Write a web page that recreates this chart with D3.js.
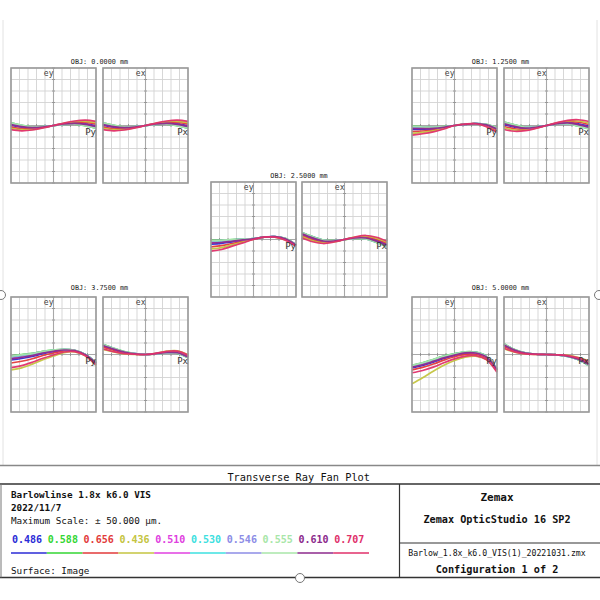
<!DOCTYPE html>
<html><head><meta charset="utf-8">
<script src="https://cdn.jsdelivr.net/npm/d3@7"></script>
<style>body{margin:0;background:#fff}svg{display:block}text{font-family:"DejaVu Sans Mono",monospace}</style>
</head><body>
<svg id="c" width="600" height="600"></svg>
<script>
// ---------- data ----------
const waves = ["0.486","0.588","0.656","0.436","0.510","0.530","0.546","0.555","0.610","0.707"];
const waveColors = ["#2b2bd6","#33d633","#e23a3a","#c4c440","#e040e0","#3de0e0","#8c8ce6","#a8e6a8","#8c2a8c","#e0306a"];
const fieldLabels = ["OBJ: 0.0000 mm","OBJ: 1.2500 mm","OBJ: 2.5000 mm","OBJ: 3.7500 mm","OBJ: 5.0000 mm"];
const pupil = [-1,-0.75,-0.5,-0.25,0,0.25,0.5,0.75,1];
const maxScale = 50; // µm
// aberration values (µm) per wavelength, in waves order
const ey0 = [
 [0.3,-1.5,-2.1,-1.4,0,1.4,2.1,1.5,-0.3],
 [2.4,0.2,-1.2,-1.0,0,1.0,1.2,-0.2,-2.4],
 [-1.2,-2.7,-2.8,-1.7,0,1.7,2.8,2.7,1.2],
 [-2.4,-3.6,-3.4,-1.9,0,1.9,3.4,3.6,2.4],
 [1.2,-0.8,-1.7,-1.2,0,1.2,1.7,0.8,-1.2],
 [1.9,-0.2,-1.4,-1.1,0,1.1,1.4,0.2,-1.9],
 [2.2,0.0,-1.3,-1.0,0,1.0,1.3,0.0,-2.2],
 [2.3,0.1,-1.25,-1.0,0,1.0,1.25,-0.1,-2.3],
 [0.9,-1.0,-1.9,-1.3,0,1.3,1.9,1.0,-0.9],
 [-3.6,-4.6,-3.9,-2.1,0,2.1,3.9,4.6,3.6]];
const ex0 = [
 [0.3,-1.5,-2.1,-1.4,0,1.4,2.1,1.5,-0.3],
 [2.4,0.2,-1.2,-1.0,0,1.0,1.2,-0.2,-2.4],
 [-1.2,-2.7,-2.8,-1.7,0,1.7,2.8,2.7,1.2],
 [-2.4,-3.6,-3.4,-1.9,0,1.9,3.4,3.6,2.4],
 [1.2,-0.8,-1.7,-1.2,0,1.2,1.7,0.8,-1.2],
 [1.9,-0.2,-1.4,-1.1,0,1.1,1.4,0.2,-1.9],
 [2.2,0.0,-1.3,-1.0,0,1.0,1.3,0.0,-2.2],
 [2.3,0.1,-1.25,-1.0,0,1.0,1.25,-0.1,-2.3],
 [0.9,-1.0,-1.9,-1.3,0,1.3,1.9,1.0,-0.9],
 [-3.6,-4.6,-3.9,-2.1,0,2.1,3.9,4.6,3.6]];
const ey1 = [
 [-3.3,-3.3,-2.9,-1.7,0,1.1,1.6,0.3,-3.4],
 [-0.6,-1.2,-1.5,-1.0,0,1.0,1.6,1.0,-2.0],
 [-5.3,-4.8,-3.9,-2.2,0,1.1,1.5,-0.2,-4.4],
 [-6.8,-6.0,-4.7,-2.6,0,1.2,1.5,-0.6,-5.2],
 [-2.2,-2.4,-2.3,-1.4,0,1.0,1.6,0.6,-2.8],
 [-1.2,-1.7,-1.8,-1.2,0,1.0,1.6,0.8,-2.3],
 [-0.9,-1.4,-1.7,-1.1,0,1.0,1.6,0.9,-2.2],
 [-0.8,-1.3,-1.6,-1.0,0,1.0,1.6,1.0,-2.1],
 [-2.6,-2.7,-2.5,-1.5,0,1.0,1.6,0.5,-3.0],
 [-8.4,-7.2,-5.5,-3.0,0,1.2,1.5,-1.0,-6.0]];
const ex1 = [
 [0.7,-1.4,-2.6,-1.7,0,1.7,2.6,1.4,-0.7],
 [3.0,0.6,-1.5,-1.2,0,1.2,1.5,-0.6,-3.0],
 [-0.9,-2.8,-3.3,-2.0,0,2.0,3.3,2.8,0.9],
 [-2.2,-3.9,-3.9,-2.2,0,2.2,3.9,3.9,2.2],
 [1.7,-0.5,-2.1,-1.5,0,1.5,2.1,0.5,-1.7],
 [2.5,0.2,-1.7,-1.3,0,1.3,1.7,-0.2,-2.5],
 [2.7,0.4,-1.6,-1.25,0,1.25,1.6,-0.4,-2.7],
 [2.9,0.5,-1.55,-1.2,0,1.2,1.55,-0.5,-2.9],
 [1.4,-0.8,-2.3,-1.5,0,1.5,2.3,0.8,-1.4],
 [-3.5,-5.0,-4.5,-2.5,0,2.5,4.5,5.0,3.5]];
const ey2 = [
 [-4.1,-3.4,-2.0,-0.8,0.5,2.0,2.4,0.4,-5.0],
 [-0.8,-0.5,0.0,0.4,0.8,2.0,2.6,1.0,-4.5],
 [-6.4,-5.4,-3.5,-1.6,0.3,2.0,2.2,0.0,-5.3],
 [-8.2,-7.1,-4.6,-2.2,0.2,2.0,2.1,-0.3,-5.5],
 [-2.7,-2.1,-1.2,-0.3,0.6,2.0,2.5,0.7,-4.8],
 [-1.5,-1.2,-0.5,0.1,0.7,2.0,2.6,0.9,-4.6],
 [-1.2,-0.8,-0.2,0.3,0.8,2.0,2.6,0.9,-4.55],
 [-1.0,-0.7,-0.1,0.3,0.8,2.0,2.6,1.0,-4.5],
 [-3.1,-2.6,-1.5,-0.4,0.6,2.0,2.5,0.6,-4.8],
 [-10.1,-8.7,-5.8,-2.9,0,2.0,2.0,-0.6,-5.8]];
const ex2 = [
 [4.4,0.9,-1.6,-1.4,0,1.4,1.6,-0.9,-4.4],
 [6.0,2.5,-0.5,-1.0,0,1.0,0.5,-2.5,-6.0],
 [3.3,-0.2,-2.3,-1.7,0,1.7,2.3,0.2,-3.3],
 [2.4,-1.1,-2.9,-2.0,0,2.0,2.9,1.1,-2.4],
 [5.1,1.6,-1.1,-1.2,0,1.2,1.1,-1.6,-5.1],
 [5.6,2.1,-0.7,-1.1,0,1.1,0.7,-2.1,-5.6],
 [5.8,2.3,-0.6,-1.05,0,1.05,0.6,-2.3,-5.8],
 [5.9,2.4,-0.55,-1.0,0,1.0,0.55,-2.4,-5.9],
 [4.9,1.4,-1.3,-1.3,0,1.3,1.3,-1.4,-4.9],
 [1.5,-2.0,-3.5,-2.2,0,2.2,3.5,2.0,-1.5]];
const ey3 = [
 [-4.8,-3.5,-1.7,0.7,2.4,3.7,3.2,-0.3,-7.6],
 [-1.3,-0.1,1.0,2.8,3.9,4.5,3.6,0.1,-6.8],
 [-7.4,-5.9,-3.7,-0.9,1.3,3.1,2.9,-0.6,-8.2],
 [-13.4,-11.6,-8.4,-4.5,-1.3,1.7,2.3,-1.2,-9.6],
 [-3.3,-2.0,-0.6,1.6,3.0,4.0,3.4,-0.1,-7.3],
 [-2.1,-0.9,0.4,2.3,3.6,4.3,3.5,0.0,-7.0],
 [-1.7,-0.5,0.7,2.6,3.7,4.4,3.6,0.05,-6.9],
 [-1.5,-0.3,0.8,2.7,3.8,4.45,3.6,0.1,-6.85],
 [-3.8,-2.5,-1.0,1.3,2.8,3.9,3.3,-0.2,-7.4],
 [-11.4,-9.7,-6.8,-3.3,-0.4,2.2,2.5,-1.0,-9.1]];
const ex3 = [
 [7.4,4.4,1.9,0.6,0,0.7,2.0,1.7,-2.0],
 [8.8,5.4,2.5,0.8,0,0.6,1.5,1.0,-2.8],
 [6.4,3.7,1.5,0.4,0,0.8,2.3,2.2,-1.4],
 [4.4,2.2,0.6,0.1,0,1.0,2.9,3.2,-0.2],
 [8.0,4.8,2.2,0.7,0,0.7,1.8,1.4,-2.3],
 [8.5,5.2,2.4,0.75,0,0.6,1.6,1.2,-2.6],
 [8.6,5.3,2.4,0.8,0,0.6,1.55,1.1,-2.7],
 [8.7,5.35,2.45,0.8,0,0.6,1.5,1.05,-2.75],
 [7.8,4.7,2.1,0.65,0,0.7,1.8,1.5,-2.2],
 [4.8,2.5,0.8,0.2,0,1.0,2.8,3.0,-0.4]];
const ey4 = [
 [-11.6,-9.6,-6.7,-3.4,-0.9,1.0,1.0,-2.4,-13.5],
 [-9.3,-7.2,-4.3,-1.4,0.6,2.3,2.0,-1.4,-12.5],
 [-13.3,-11.2,-8.3,-4.9,-2.0,0.1,0.3,-3.1,-14.2],
 [-25.5,-20.3,-14.5,-9.3,-5.2,-2.3,-1.4,-4.3,-14.5],
 [-10.6,-8.5,-5.6,-2.6,-0.3,1.6,1.4,-2.0,-13.1],
 [-9.8,-7.7,-4.8,-1.9,0.25,2.0,1.8,-1.6,-12.7],
 [-9.6,-7.5,-4.6,-1.6,0.4,2.15,1.9,-1.5,-12.6],
 [-9.4,-7.3,-4.4,-1.5,0.5,2.2,1.95,-1.45,-12.55],
 [-11.0,-8.9,-6.0,-2.9,-0.5,1.4,1.3,-2.1,-13.2],
 [-15.9,-13.9,-11.0,-7.2,-3.8,-1.4,-0.9,-4.3,-15.4]];
const ex4 = [
 [8.0,3.6,1.1,0.2,0,-0.3,-1.4,-4.0,-8.5],
 [9.3,4.3,1.4,0.3,0,-0.3,-1.7,-4.6,-9.8],
 [7.0,3.1,0.9,0.2,0,-0.2,-1.2,-3.6,-7.5],
 [5.0,2.0,0.5,0.1,0,-0.2,-0.8,-2.6,-5.5],
 [8.5,3.9,1.2,0.26,0,-0.28,-1.5,-4.3,-9.0],
 [9.0,4.1,1.3,0.28,0,-0.29,-1.6,-4.5,-9.5],
 [9.15,4.2,1.37,0.29,0,-0.3,-1.67,-4.53,-9.65],
 [9.2,4.25,1.38,0.3,0,-0.3,-1.68,-4.57,-9.7],
 [8.35,3.8,1.2,0.25,0,-0.28,-1.5,-4.2,-8.85],
 [5.5,2.3,0.6,0.1,0,-0.2,-0.9,-2.9,-6.0]];
const eyData = [ey0, ey1, ey2, ey3, ey4];
const exData = [ex0, ex1, ex2, ex3, ex4];

const titleText = "Transverse Ray Fan Plot";
const infoLines = ["Barlowlinse 1.8x k6.0 VIS", "2022/11/7", "Maximum Scale: \u00b1 50.000 \u00b5m."];
const surfaceText = "Surface: Image";
const brand = ["Zemax", "Zemax OpticStudio 16 SP2"];
const fileName = "Barlow_1.8x_k6.0_VIS(1)_20221031.zmx";
const configText = "Configuration 1 of 2";

// ---------- layout ----------
const svg = d3.select("#c");
svg.append("rect").attr("width",600).attr("height",600).attr("fill","#fff");

// panel positions: [left box x0, right box x0, top y]
const panelPos = [
  {lx:11, rx:103, ty:68, title:64},
  {lx:412, rx:504, ty:68, title:64},
  {lx:211, rx:302, ty:182, title:178},
  {lx:11, rx:103, ty:297, title:290},
  {lx:412, rx:504, ty:297, title:290}
];
const boxW = 85, boxH = 115;

function drawBox(x0, y0, data, axisLab, pupLab) {
  const g = svg.append("g");
  const x = d3.scaleLinear().domain([-1,1]).range([x0, x0+boxW]);
  const y = d3.scaleLinear().domain([-maxScale, maxScale]).range([y0+boxH, y0]);
  g.selectAll(".gx").data(x.ticks(10)).join("line")
    .attr("x1",d=>x(d)).attr("x2",d=>x(d)).attr("y1",y0).attr("y2",y0+boxH)
    .attr("stroke",d=>d===0?"#a8a8a8":"#d2d2d2").attr("stroke-width",d=>d===0?1.1:0.9);
  g.selectAll(".gy").data(y.ticks(10)).join("line")
    .attr("y1",d=>y(d)).attr("y2",d=>y(d)).attr("x1",x0).attr("x2",x0+boxW)
    .attr("stroke",d=>d===0?"#a8a8a8":"#d2d2d2").attr("stroke-width",d=>d===0?1.1:0.9);
  // small ticks on axes
  g.selectAll(".ty").data(y.ticks(10).filter(d=>d!==0)).join("line")
    .attr("x1",x(0)-1.5).attr("x2",x(0)+1.5).attr("y1",d=>y(d)).attr("y2",d=>y(d))
    .attr("stroke","#888").attr("stroke-width",0.8);
  g.selectAll(".tx").data(x.ticks(10).filter(d=>d!==0)).join("line")
    .attr("y1",y(0)-1.5).attr("y2",y(0)+1.5).attr("x1",d=>x(d)).attr("x2",d=>x(d))
    .attr("stroke","#888").attr("stroke-width",0.8);
  const line = d3.line().x((d,i)=>x(pupil[i])).y(d=>y(d)).curve(d3.curveCatmullRom.alpha(0.5));
  g.selectAll(".curve").data(data).join("path")
    .attr("d", line).attr("fill","none")
    .attr("stroke",(d,i)=>waveColors[i]).attr("stroke-width",1.7).attr("opacity",0.95);
  g.append("rect").attr("x",x0).attr("y",y0).attr("width",boxW).attr("height",boxH)
    .attr("fill","none").attr("stroke","#9a9a9a").attr("stroke-width",1.6);
  g.append("text").attr("x",x(0)).attr("y",y0+8).attr("text-anchor","end")
    .attr("font-size",8).attr("fill","#444").text(axisLab);
  g.append("text").attr("x",x0+boxW).attr("y",y(0)+9).attr("text-anchor","end")
    .attr("font-size",9).attr("fill","#333").text(pupLab);
}

panelPos.forEach((p,i)=>{
  drawBox(p.lx, p.ty, eyData[i], "ey", "Py");
  drawBox(p.rx, p.ty, exData[i], "ex", "Px");
  svg.append("text").attr("x",(p.lx+p.rx+boxW)/2).attr("y",p.title)
    .attr("text-anchor","middle").attr("font-size",6.8).attr("fill","#222").text(fieldLabels[i]);
});

// ---------- frame ----------
svg.append("line").attr("x1",3).attr("x2",3).attr("y1",20).attr("y2",465).attr("stroke","#e2e2e2");
svg.append("line").attr("x1",597).attr("x2",597).attr("y1",20).attr("y2",465).attr("stroke","#e2e2e2");
svg.append("line").attr("x1",0).attr("x2",600).attr("y1",465.5).attr("y2",465.5).attr("stroke","#888").attr("stroke-width",1.6);
svg.append("line").attr("x1",0).attr("x2",600).attr("y1",484).attr("y2",484).attr("stroke","#333").attr("stroke-width",1.4);
svg.append("line").attr("x1",0).attr("x2",600).attr("y1",577.5).attr("y2",577.5).attr("stroke","#333").attr("stroke-width",1.4);
svg.append("line").attr("x1",399.5).attr("x2",399.5).attr("y1",484).attr("y2",577.5).attr("stroke","#333").attr("stroke-width",1.2);
svg.append("line").attr("x1",399.5).attr("x2",600).attr("y1",543).attr("y2",543).attr("stroke","#333").attr("stroke-width",1.2);
svg.append("line").attr("x1",1).attr("x2",1).attr("y1",484).attr("y2",577.5).attr("stroke","#777").attr("stroke-width",1);

svg.append("text").attr("x",370).attr("y",481).attr("text-anchor","end")
  .attr("font-size",10.3).attr("fill","#111").text(titleText);

const infoG = svg.append("g").attr("fill","#111");
infoG.selectAll("text").data(infoLines).join("text")
  .attr("x",11).attr("y",(d,i)=>498+i*13).attr("font-size",9.3)
  .attr("font-weight",(d,i)=>i<2?"bold":"normal").text(d=>d);

const legX = d3.scaleBand().domain(waves).range([11,369]);
svg.selectAll(".lt").data(waves).join("text")
  .attr("x",d=>legX(d)+1).attr("y",543).attr("font-size",10).attr("font-weight","bold")
  .attr("fill",(d,i)=>waveColors[i]).text(d=>d);
svg.selectAll(".ll").data(waves).join("line")
  .attr("x1",d=>legX(d)).attr("x2",d=>legX(d)+legX.bandwidth())
  .attr("y1",553).attr("y2",553).attr("stroke",(d,i)=>waveColors[i]).attr("stroke-width",1.5);
svg.append("text").attr("x",11).attr("y",574).attr("font-size",9.3).attr("fill","#111").text(surfaceText);

svg.append("text").attr("x",497).attr("y",501).attr("text-anchor","middle")
  .attr("font-size",11).attr("font-weight","bold").attr("fill","#111").text(brand[0]);
svg.append("text").attr("x",497).attr("y",523).attr("text-anchor","middle")
  .attr("font-size",10.2).attr("font-weight","bold").attr("fill","#111").text(brand[1]);
svg.append("text").attr("x",497).attr("y",556).attr("text-anchor","middle")
  .attr("font-size",8.2).attr("fill","#111").text(fileName);
svg.append("text").attr("x",497).attr("y",573).attr("text-anchor","middle")
  .attr("font-size",10.2).attr("font-weight","bold").attr("fill","#111").text(configText);

// scan artifacts (binder holes)
[[1,295],[599,295],[300,578]].forEach(([cx,cy])=>{
  svg.append("circle").attr("cx",cx).attr("cy",cy).attr("r",4.5).attr("fill","#fff").attr("stroke","#777").attr("stroke-width",1);
});
</script>
</body></html>
